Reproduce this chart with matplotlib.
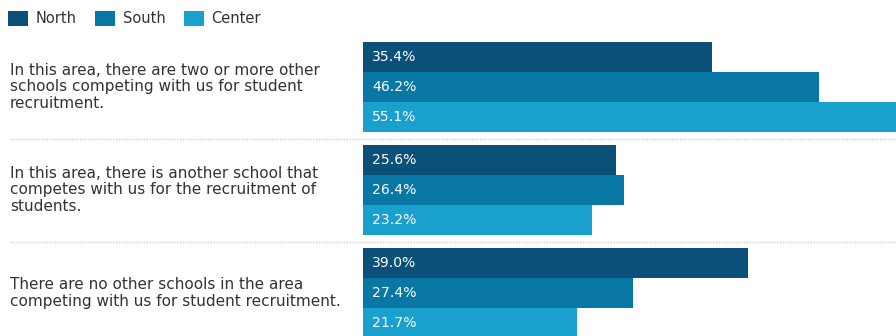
import matplotlib
matplotlib.use("Agg")
import matplotlib.pyplot as plt
from matplotlib.patches import Patch
from matplotlib.transforms import blended_transform_factory

plt.rcParams['font.family'] = ['DejaVu Sans']

categories = [
    "In this area, there are two or more other\nschools competing with us for student\nrecruitment.",
    "In this area, there is another school that\ncompetes with us for the recruitment of\nstudents.",
    "There are no other schools in the area\ncompeting with us for student recruitment.",
]
series = ["North", "South", "Center"]
north = [35.4, 25.6, 39.0]
south = [46.2, 26.4, 27.4]
center = [55.1, 23.2, 21.7]
colors = ["#0b5078", "#0877a3", "#1aa0cc"]

W, H = 896, 336
fig = plt.figure(figsize=(W / 100, H / 100), dpi=100)
ax_top_px, ax_bot_px = 36, 336
ax = fig.add_axes([363 / W, 1 - ax_bot_px / H, 1 - 363 / W, (ax_bot_px - ax_top_px) / H])

group_gap = 1.03
bar_h = 0.30
values = [north, south, center]
for s, (name, vals, col) in enumerate(zip(series, values, colors)):
    for g, v in enumerate(vals):
        y = g * group_gap + (s - 1) * bar_h
        ax.barh(y, v, height=bar_h, color=col, edgecolor='none')
        ax.text(0.9, y, f"{v:.1f}%", color='white', va='center', ha='left', fontsize=10.1)

label_tr = blended_transform_factory(fig.transFigure, ax.transData)
for g, cat in enumerate(categories):
    ax.text(10 / W, g * group_gap, cat, transform=label_tr,
            ha='left', va='center', fontsize=11, color='#333333', linespacing=1.12)

for g in range(len(categories) - 1):
    ysep = g * group_gap + 0.52
    ax.axhline(ysep, xmin=(10 - 363) / (W - 363), xmax=1, color='#d0d0d0', lw=1,
               ls=(0, (1, 1)), clip_on=False)

ax.set_xlim(0, 54.0)
ax.set_ylim((ax_bot_px - 87) / 100, -(87 - ax_top_px) / 100)
ax.axis('off')

handles = [Patch(facecolor=c, edgecolor='none', label=n) for n, c in zip(series, colors)]
fig.legend(handles=handles, loc='center left', bbox_to_anchor=(0.0, 1 - 18.5 / H), ncol=3, frameon=False,
           fontsize=10.5, handlelength=1.4, handleheight=1.3, handletextpad=0.5, columnspacing=1.25,
           labelcolor='#333333', borderaxespad=0, borderpad=0.55)

fig.savefig("out.png", dpi=100, facecolor='white')
